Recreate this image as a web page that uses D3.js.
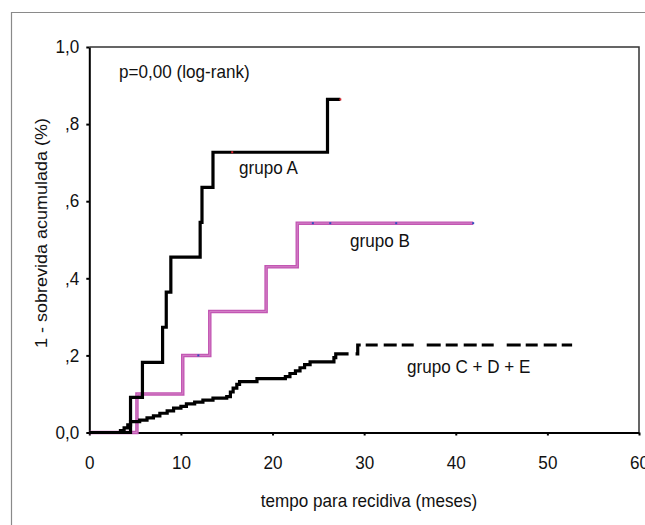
<html>
<head>
<script src="https://d3js.org/d3.v7.min.js"></script>
<style>
  body { margin: 0; background: #fff; }
  text { font-family: "Liberation Sans", Arial, sans-serif; font-size: 18px; fill: #111; }
  .axis path, .axis line { stroke: #000; stroke-width: 2; }
</style>
</head>
<body>
<svg id="chart" width="645" height="525"></svg>
<script>
// group A (solid black)
const aTimes  = [0, 4.5, 5.8, 8.0, 8.4, 8.9, 12.1, 12.3, 13.5, 26.0];
const aValues = [0, 0.091, 0.182, 0.273, 0.364, 0.455, 0.545, 0.636, 0.727, 0.864];
const aEnd = 27.4;
const aCensored = [15.6, 27.4];

// group B (magenta)
const bTimes  = [0, 5.2, 10.2, 13.15, 19.3, 22.7];
const bValues = [0, 0.100, 0.200, 0.314, 0.430, 0.543];
const bEnd = 41.9;
const bCensored = [11.9, 24.4, 26.3, 33.5, 41.9];

// group C + D + E (black, dashed at the tail)
const cTimes  = [0, 3.4, 3.8, 4.2, 4.5, 5.5, 6.3, 7.0, 7.7, 8.5, 9.2, 10.0, 10.6, 11.5, 12.4, 13.5, 15.0, 15.4, 15.7, 16.1, 16.4, 18.3, 21.4, 21.9, 22.5, 23.0, 23.5, 24.1, 26.7, 26.9, 29.3];
const cValues = [0, 0.005, 0.012, 0.020, 0.028, 0.032, 0.038, 0.043, 0.050, 0.056, 0.063, 0.068, 0.074, 0.079, 0.084, 0.089, 0.093, 0.105, 0.115, 0.125, 0.132, 0.140, 0.145, 0.153, 0.160, 0.168, 0.176, 0.183, 0.194, 0.204, 0.227];
const cEnd = 52.7;
const cDashFrom = 28.3;

const xTicks = [0, 10, 20, 30, 40, 50, 60];
const yTicks = [0, 0.2, 0.4, 0.6, 0.8, 1.0];
const yTickLabels = ["0,0", ",2", ",4", ",6", ",8", "1,0"];

const plotLeft = 89.3, plotRight = 639, plotTop = 47, plotBottom = 432.5;
const squeeze = "scale(0.95,1)"; // the original font is a bit narrower

const svg = d3.select("#chart");

// outer frame
svg.append("path")
  .attr("d", `M11.5,525 V12.5 H645`)
  .attr("fill", "none").attr("stroke", "#8a8a8a").attr("stroke-width", 1.2);

const x = d3.scaleLinear().domain([0, 60]).range([plotLeft, plotRight]);
const y = d3.scaleLinear().domain([0, 1]).range([plotBottom, plotTop]);

// plot box top/right
svg.append("path")
  .attr("d", `M${plotLeft},${plotTop} H${plotRight} V${plotBottom}`)
  .attr("fill", "none").attr("stroke", "#333").attr("stroke-width", 1.5);

const xAxis = d3.axisBottom(x).tickValues(xTicks).tickSize(3).tickPadding(21).tickSizeOuter(0);
const yAxis = d3.axisLeft(y).tickValues(yTicks).tickSize(3).tickPadding(7).tickSizeOuter(0)
  .tickFormat((d, i) => yTickLabels[i]);

svg.append("g").attr("class", "axis")
  .attr("transform", `translate(0,${plotBottom})`)
  .call(xAxis)
  .call(g => g.selectAll("text").attr("font-size", null).attr("font-family", null).attr("transform", squeeze));

svg.append("g").attr("class", "axis")
  .attr("transform", `translate(${plotLeft},0)`)
  .call(yAxis)
  .call(g => g.selectAll("text").attr("font-size", null).attr("font-family", null)
    .attr("x", -10.5).attr("transform", squeeze));

function steps(times, values, end) {
  const pts = times.map((t, i) => [t, values[i]]);
  pts.push([end, values[values.length - 1]]);
  return pts;
}

const line = d3.line()
  .x(d => x(d[0]))
  .y(d => y(d[1]))
  .curve(d3.curveStepAfter);

// group B
svg.append("path")
  .datum(steps(bTimes, bValues, bEnd))
  .attr("d", line)
  .attr("fill", "none").attr("stroke", "#c257b3").attr("stroke-width", 3.5);
svg.append("path")
  .datum(steps(bTimes, bValues, bEnd))
  .attr("d", line)
  .attr("fill", "none").attr("stroke", "#d98ccd").attr("stroke-width", 0.8);

// group C + D + E
const cPts = steps(cTimes, cValues, cEnd);
const cSolid = cPts.filter(d => d[0] < cDashFrom);
cSolid.push([cDashFrom, cSolid[cSolid.length - 1][1]]);
const cDash = [[cDashFrom, cSolid[cSolid.length - 1][1]]].concat(cPts.filter(d => d[0] >= cDashFrom));

svg.append("path")
  .datum(cSolid)
  .attr("d", line)
  .attr("fill", "none").attr("stroke", "#000").attr("stroke-width", 3.2);
svg.append("path")
  .datum(cDash)
  .attr("d", line)
  .attr("fill", "none").attr("stroke", "#000").attr("stroke-width", 3.2)
  .attr("stroke-dasharray", "0,7,14,5,12,6,13,5,12,6");

// group A
svg.append("path")
  .datum(steps(aTimes, aValues, aEnd))
  .attr("d", line)
  .attr("fill", "none").attr("stroke", "#000").attr("stroke-width", 3.2);

// censor marks
function valueAt(times, values, t) {
  let v = values[0];
  times.forEach((tt, i) => { if (tt <= t) v = values[i]; });
  return v;
}
svg.selectAll(".censA").data(aCensored).enter().append("rect")
  .attr("x", d => x(d) - 1).attr("y", d => y(valueAt(aTimes, aValues, d)) - 1)
  .attr("width", 2).attr("height", 2).attr("fill", "#e0202a");
svg.selectAll(".censB").data(bCensored).enter().append("rect")
  .attr("x", d => x(d) - 1).attr("y", d => y(valueAt(bTimes, bValues, d)) - 1)
  .attr("width", 2).attr("height", 2).attr("fill", "#3050c0");

// texts
function label(tx, ty, str, anchor) {
  return svg.append("text")
    .attr("transform", `translate(${tx},${ty}) ${squeeze}`)
    .attr("text-anchor", anchor || "start")
    .text(str);
}
label(119, 78, "p=0,00 (log-rank)");
label(239, 174, "grupo A");
label(350, 247, "grupo B");
label(407, 373, "grupo C + D + E");
label(369, 507, "tempo para recidiva (meses)", "middle");

svg.append("text")
  .attr("transform", "translate(47,233) rotate(-90) scale(1,0.95)")
  .attr("text-anchor", "middle")
  .text("1 - sobrevida acumulada (%)");
</script>
</body>
</html>
